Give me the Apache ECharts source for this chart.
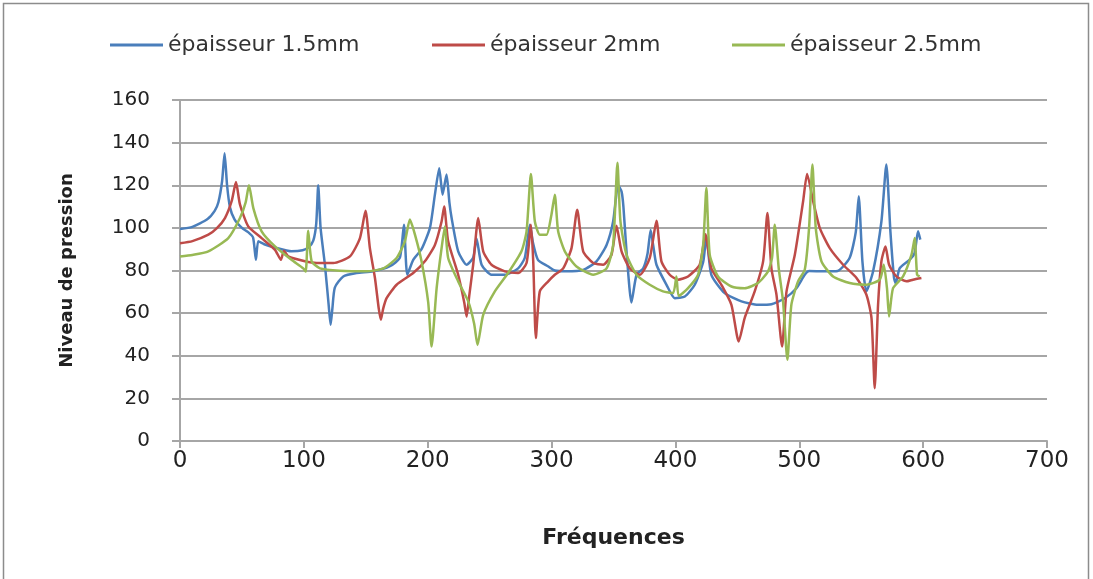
<!DOCTYPE html>
<html>
<head>
<meta charset="utf-8">
<script src="https://cdn.jsdelivr.net/npm/echarts@6/dist/echarts.min.js"></script>
<style>
  html, body { margin: 0; padding: 0; background: #fff; }
  #chart { width: 1093px; height: 579px; }
</style>
</head>
<body>
<div id="chart"></div>
<script>
// Sound pressure level versus frequency for three plate thicknesses
const seriesNames = ['épaisseur 1.5mm', 'épaisseur 2mm', 'épaisseur 2.5mm'];
const xTicks = [0, 100, 200, 300, 400, 500, 600, 700];
const yTicks = [0, 20, 40, 60, 80, 100, 120, 140, 160];

// [fréquence, niveau] pairs
const thickness15 = [
  [0,99.5],[10,100.5],[22,104],[28,108],[31,112],[34,122],[36,135],[38,120],[40.4,109.5],[44,104],
  [50,100],[55,98],[59,95.5],[61.3,85],[63.2,93.7],[68,92.3],[77,90.7],[90,89],[99,89.5],[104,91],
  [107.6,94],[110,102],[111.6,120],[113.5,100],[117,82.7],[120,64],[121.6,54.5],[123,62],[125,72],
  [131.8,77.2],[142.6,78.8],[156,79.6],[169.5,82],[177.5,86],[180.8,101.5],[183.5,78],[188.3,85],
  [195,90],[201.8,100],[205.8,115.6],[209.3,128],[212,115.6],[215.2,125],[217.5,112],[219.3,104.6],
  [224.6,89],[231.4,82.7],[236.7,86],[239.4,95],[243.5,82.7],[251.5,78],[262.3,78],[273,81],
  [278.4,86],[282.5,101.5],[285,93],[289,85],[297,82],[302.6,80],[312,79.6],[325.5,80.3],[336.3,84.3],
  [344.4,92],[349.7,103],[353.7,120],[356.5,117],[358,110],[360.5,89],[364.5,65],[368.6,78],[374,81],
  [377.5,88],[380,99],[382,92],[384.7,82.7],[392.8,73.3],[399.5,67],[407.6,67.8],[415.6,73.3],
  [422.4,84],[425,96],[429,78],[439.8,69.4],[453.3,65.5],[466.7,63.9],[477.5,64.2],[488.3,67],
  [497.7,71.7],[504.4,78],[508,79.8],[520,79.6],[531,79.8],[540.7,86],[545.6,98],[548,114.8],
  [551,84],[554.2,70.2],[559.6,79.6],[566.3,103],[570.3,129.7],[573.6,98],[576.5,76.5],[577.9,74],
  [581,81],[589,85],[593,88],[595.9,98.4],[597.7,94.5]
];
const thickness20 = [
  [0,92.8],[10,93.8],[22.9,96.8],[30,100],[36.3,104.6],[41.7,112.5],[45.2,121.5],[48.4,111],
  [55.1,100.7],[65.9,95.2],[76.7,89.7],[81.5,85],[83.9,89.3],[87.4,86.6],[100.9,84.3],[110.3,83.5],
  [123.7,83.5],[137.2,86.6],[145.3,95.2],[149.8,108],[153.3,90.5],[157.4,76.5],[160.5,62],[162.2,56.9],
  [164,62],[166.8,67],[174.9,73.3],[188.3,78.8],[197.7,84.3],[205.8,92],[211.2,103],[213.3,110],
  [216.5,93.7],[224.6,78],[229.5,65],[231.4,58.4],[233.5,68],[236.7,82.7],[240.8,104.6],[244.8,89],
  [251.5,82.7],[262.3,79.6],[273,78.8],[279.8,83.5],[283.3,101.5],[285.2,84.3],[287.3,48.3],
  [290.5,70.2],[297.3,74.9],[302.6,78],[309.4,81],[316.1,90.5],[320.7,108.5],[325.5,89],[333.6,83.5],
  [341.6,82.7],[348.4,87.4],[352.4,101],[356.5,89],[363.2,81],[371.3,78],[379.3,85.9],[384.7,103.4],
  [388.7,84.3],[395.4,78],[402.1,75.7],[410.2,77.2],[419.6,82.7],[424.2,97],[429,81],[437.1,73.3],
  [445.2,63.9],[451.1,46.7],[455.9,57.7],[464,70.2],[470.8,84.3],[474.3,107],[477.5,81],[481.6,68.6],
  [486.1,44.3],[489.7,70.2],[496.4,87.4],[503.1,112.5],[506.3,125.3],[511.2,112.5],[516.5,100],
  [524.6,90.5],[535.4,82.7],[546.2,76.5],[554.2,68.6],[558.3,57.7],[560.9,24.8],[563.6,63.9],
  [566.3,84.3],[569.6,91.3],[572.5,82.7],[578.4,77.2],[586.5,74.9],[591.8,75.7],[598.6,76.5]
];
const thickness25 = [
  [0,86.6],[10,87.3],[22.9,89],[39,95.2],[48.4,104.6],[53,112],[55.7,120],[59.2,109.3],[65.9,98.4],
  [76.7,91.3],[90,85],[99.5,81],[101.5,79.5],[103.5,98.7],[106.3,84.3],[113,81],[129.1,79.9],
  [150.7,79.6],[164.1,81],[174.9,85.9],[181.6,93.7],[185.6,103.9],[189.7,96.8],[195,84.3],[200.4,65],
  [203.1,44.3],[207.2,71.7],[211.2,90.5],[213.9,100.7],[216.5,85.9],[224.6,74.9],[232.7,65.5],
  [237.5,55],[240.2,45.1],[244.8,59.2],[254.2,70.2],[264.9,78.8],[275.7,89],[279.8,98.4],[283.3,125.3],
  [286.5,103],[290.5,96.8],[295.9,96.8],[299.9,106.2],[302.6,115.6],[305.3,98.4],[310.7,89],
  [320.1,81.9],[333.6,78],[344.4,81],[349.7,92],[353.2,130.5],[355.6,103],[360.5,87.4],[368.6,78],
  [379.3,73.3],[390,70.2],[398.1,69.4],[400.8,77.2],[402.7,68],[410.2,71.7],[418.3,78],[422.4,92],
  [425,118.7],[427.7,87.4],[434.4,77.2],[445.2,72.5],[455.9,71.7],[466.7,74.1],[474.8,79.6],[478,85.9],
  [480.2,101.5],[483.4,81],[486.9,65.5],[490.4,38.1],[493.6,63.9],[499,74.9],[504.4,80.3],[507.9,100],
  [510.6,129.7],[513.3,100],[517.9,84.3],[527.3,77.2],[540.7,74.1],[554.2,73.3],[565,75.7],[568.2,82.7],
  [570.8,71.7],[572.5,58.4],[575.7,71.7],[583.8,77.2],[590.6,87.4],[593.2,95.2],[595.1,78],[597.2,77.2]
];

const colors = ['#4a7ebb', '#be4b48', '#98b954'];
const seriesData = [thickness15, thickness20, thickness25];

const chart = echarts.init(document.getElementById('chart'), null, { renderer: 'canvas' });

const legendLefts = [110, 432, 732];
const legendFont = { fontFamily: 'DejaVu Sans', fontSize: 22, color: '#333' };

chart.setOption({
  backgroundColor: '#ffffff',
  animation: false,
  color: colors,
  graphic: [{
    type: 'rect',
    shape: { x: 3.5, y: 3.5, width: 1085, height: 620 },
    style: { fill: 'none', stroke: '#8c8c8c', lineWidth: 1.5 },
    silent: true
  }],
  legend: seriesNames.map((name, i) => ({
    data: [name],
    left: legendLefts[i],
    top: 34,
    padding: 0,
    icon: 'rect',
    itemWidth: 53,
    itemHeight: 3,
    textStyle: legendFont,
    selectedMode: false
  })),
  grid: { left: 180, right: 46, top: 100, bottom: 138 },
  xAxis: {
    type: 'value',
    min: xTicks[0],
    max: xTicks[xTicks.length - 1],
    interval: 100,
    name: 'Fréquences',
    nameLocation: 'middle',
    nameGap: 86,
    nameTextStyle: { fontFamily: 'DejaVu Sans', fontWeight: 'bold', fontSize: 22, color: '#222' },
    axisLine: { lineStyle: { color: '#a6a6a6', width: 2 } },
    axisTick: { show: true, length: 7, lineStyle: { color: '#a6a6a6', width: 2 } },
    axisLabel: { fontFamily: 'DejaVu Sans', fontSize: 23, color: '#222', margin: 9 },
    splitLine: { show: false }
  },
  yAxis: {
    type: 'value',
    min: yTicks[0],
    max: yTicks[yTicks.length - 1],
    interval: 20,
    name: 'Niveau de pression',
    nameLocation: 'middle',
    nameGap: 104,
    nameTextStyle: { fontFamily: 'DejaVu Sans', fontWeight: 'bold', fontSize: 18, color: '#222' },
    axisLine: { show: true, lineStyle: { color: '#a6a6a6', width: 2 } },
    axisTick: { show: true, length: 8, lineStyle: { color: '#a6a6a6', width: 2 } },
    axisLabel: { fontFamily: 'DejaVu Sans', fontSize: 20, color: '#222', margin: 30 },
    splitLine: { show: true, lineStyle: { color: '#a6a6a6', width: 2 } }
  },
  series: seriesNames.map((name, i) => ({
    name: name,
    type: 'line',
    data: seriesData[i],
    showSymbol: false,
    symbol: 'none',
    smooth: 0.2,
    lineStyle: { width: 2.5, color: colors[i] },
    itemStyle: { color: colors[i] }
  }))
});
</script>
</body>
</html>
